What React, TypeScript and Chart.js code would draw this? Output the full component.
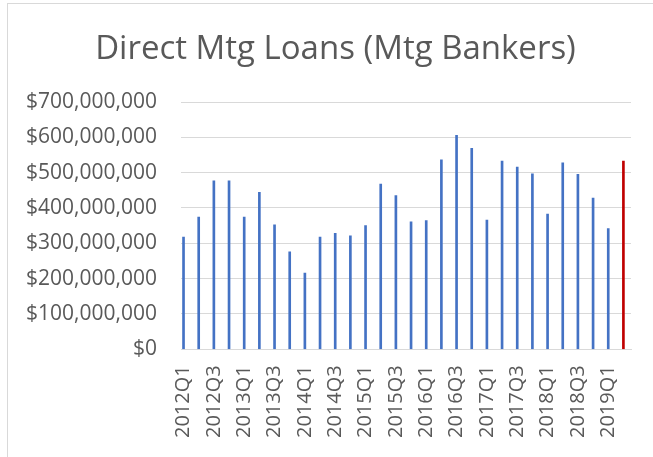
import React, { useEffect, useRef } from "react";
import { Chart, registerables } from "chart.js";

Chart.register(...registerables);

const quarters: string[] = [
  "2012Q1", "2012Q2", "2012Q3", "2012Q4",
  "2013Q1", "2013Q2", "2013Q3", "2013Q4",
  "2014Q1", "2014Q2", "2014Q3", "2014Q4",
  "2015Q1", "2015Q2", "2015Q3", "2015Q4",
  "2016Q1", "2016Q2", "2016Q3", "2016Q4",
  "2017Q1", "2017Q2", "2017Q3", "2017Q4",
  "2018Q1", "2018Q2", "2018Q3", "2018Q4",
  "2019Q1", "2019Q2",
];

const loans: number[] = [
  318e6, 374e6, 477e6, 477e6,
  374e6, 444e6, 352e6, 276e6,
  216e6, 318e6, 328e6, 321e6,
  350e6, 468e6, 435e6, 361e6,
  364e6, 536e6, 606e6, 569e6,
  366e6, 533e6, 516e6, 497e6,
  383e6, 528e6, 495e6, 428e6,
  342e6, 533e6,
];

const yTicks: number[] = [0, 100e6, 200e6, 300e6, 400e6, 500e6, 600e6, 700e6];

const TITLE = "Direct Mtg Loans (Mtg Bankers)";
const FONT = "'Open Sans', 'DejaVu Sans', sans-serif";
const TEXT = "#595959";
const GRID = "#d9d9d9";
const BLUE = "#4472C4";
const RED = "#C00000";

const titleShift = {
  id: "titleShift",
  afterLayout(chart: any) {
    const t = chart.titleBlock;
    if (t) {
      t.left += 15;
      t.right += 15;
    }
  },
};

export default function App() {
  const ref = useRef<HTMLCanvasElement | null>(null);

  useEffect(() => {
    if (!ref.current) return;
    const monthIdx = (i: number) => i * 3;
    const chart = new Chart(ref.current, {
      type: "bar",
      data: {
        datasets: [
          {
            data: loans.map((v, i) => ({ x: monthIdx(i), y: v })),
            backgroundColor: loans.map((_, i) => (i === loans.length - 1 ? RED : BLUE)),
            barThickness: 2,
            borderWidth: 0,
          },
        ],
      },
      plugins: [titleShift],
      options: {
        responsive: false,
        animation: false,
        layout: { padding: { left: 10, right: 22, top: 0, bottom: 0 } },
        plugins: {
          legend: { display: false },
          tooltip: { enabled: false },
          title: {
            display: true,
            text: TITLE,
            color: TEXT,
            font: { family: FONT, size: 33, weight: "normal" },
            padding: { top: 30, bottom: 32.4 },
          },
        },
        scales: {
          x: {
            type: "linear",
            offset: false,
            min: -0.5,
            max: monthIdx(quarters.length - 1) + 1.5,
            grid: { display: false },
            border: { display: true, color: GRID, width: 1 },
            afterBuildTicks: (scale: any) => {
              scale.ticks = quarters
                .map((_, i) => i)
                .filter((i) => i % 2 === 0)
                .map((i) => ({ value: monthIdx(i) }));
            },
            afterFit: (scale: any) => {
              scale.height = 107.7;
            },
            ticks: {
              autoSkip: false,
              minRotation: 90,
              maxRotation: 90,
              padding: 8,
              color: TEXT,
              font: { family: FONT, size: 20 },
              callback: (v: any) => quarters[Math.round(Number(v) / 3)] ?? "",
            },
          },
          y: {
            min: 0,
            max: 700e6,
            afterBuildTicks: (scale: any) => {
              scale.ticks = yTicks.map((v) => ({ value: v }));
            },
            afterFit: (scale: any) => {
              scale.width = 171;
            },
            grid: { color: GRID, lineWidth: 1, drawTicks: false },
            border: { display: false },
            ticks: {
              padding: 24,
              color: TEXT,
              font: { family: FONT, size: 21 },
              callback: (v: any) => "$" + Number(v).toLocaleString("en-US"),
            },
          },
        },
      },
    });
    return () => chart.destroy();
  }, []);

  return (
    <div
      style={{
        position: "absolute",
        left: 0,
        top: 0,
        width: 653,
        height: 457,
        overflow: "hidden",
        background: "#fff",
      }}
    >
      <div
        style={{
          position: "absolute",
          left: 7,
          top: 3,
          width: 700,
          height: 500,
          border: "1px solid " + GRID,
        }}
      />
      <canvas
        ref={ref}
        width={653}
        height={457}
        style={{ position: "absolute", left: 0, top: 0, width: 653, height: 457 }}
      />
    </div>
  );
}
